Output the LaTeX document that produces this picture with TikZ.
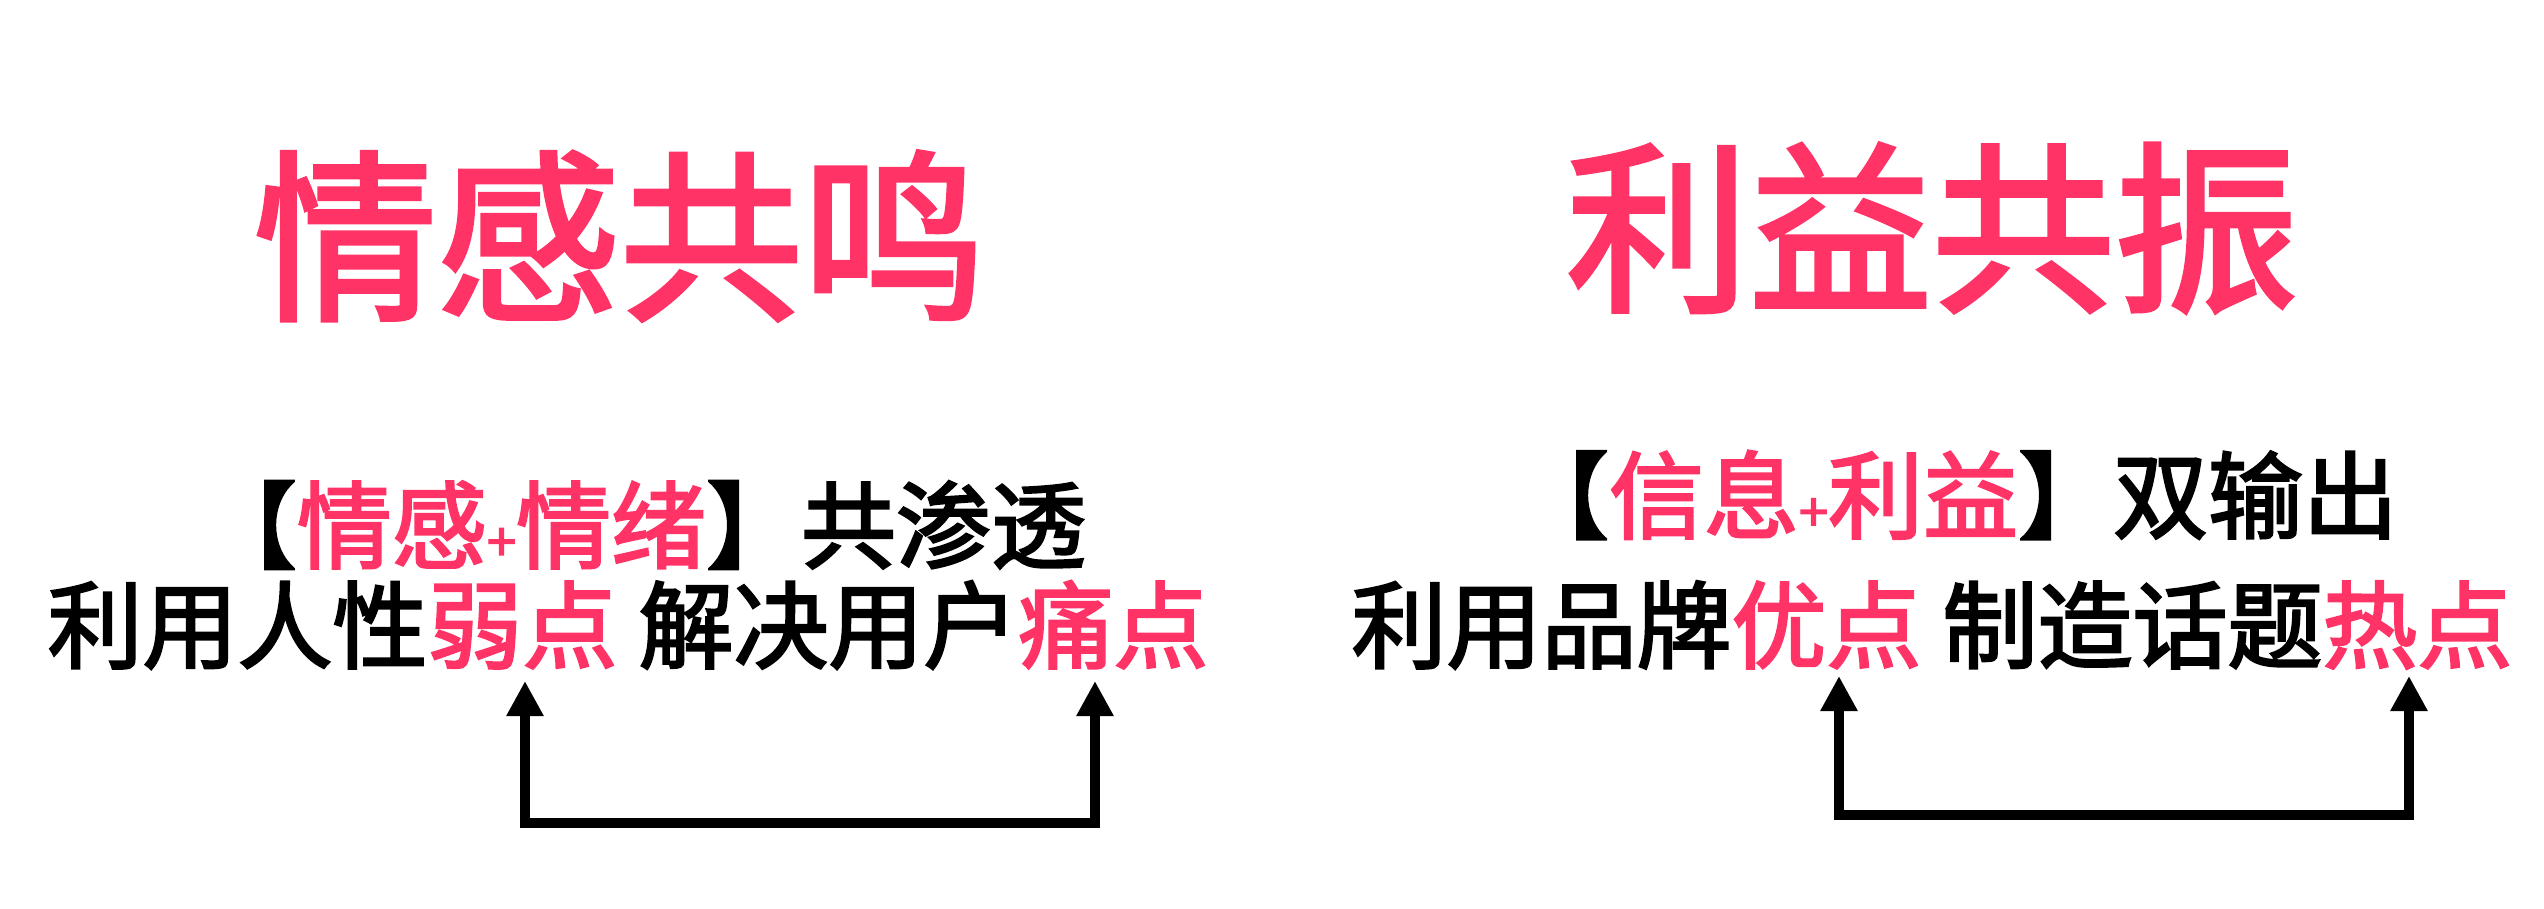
\documentclass[tikz,border=0pt]{standalone}
\usepackage{fontspec}
\newfontfamily\cjk{Noto Sans CJK SC}[AutoFakeBold=2.5]
\usetikzlibrary{positioning,arrows.meta}
\definecolor{pk}{HTML}{FF3366}
\tikzset{
    title/.style={font=\cjk\bfseries\fontsize{52pt}{58pt}\selectfont,text=pk,inner sep=0pt},
    line/.style={font=\cjk\bfseries\fontsize{27pt}{30pt}\selectfont,inner sep=0pt},
    loop/.style={line width=3pt,{Triangle[length=10pt,width=10pt]}-{Triangle[length=10pt,width=10pt]}}
}
\newcommand{\hl}[1]{\textcolor{pk}{#1}}
\begin{document}
\begin{tikzpicture}[x=0.01cm,y=-0.01cm]
    \useasboundingbox (0,0) rectangle (2544,908);
    % left column
    \node [title] (tl) at (620,236) {情感共鸣};
    \node [line] (la) at (644,525) {【\hl{情感}{\fontsize{15pt}{15pt}\selectfont\hl{+}}\hl{情绪}】共渗透};
    \node [line] (lb) at (628,625) {利用人性\hl{弱点} 解决用户\hl{痛点}};
    \coordinate (l1) at (525,823);
    \coordinate (l2) at (1095,823);
    \draw [loop] (525,681) -- (l1) -- (l2) -- (1095,681);
    % right column
    \node [title] (tr) at (1932,228) {利益共振};
    \node [line] (ra) at (1956,495) {【\hl{信息}{\fontsize{15pt}{15pt}\selectfont\hl{+}}\hl{利益}】双输出};
    \node [line] (rb) at (1932,625) {利用品牌\hl{优点} 制造话题\hl{热点}};
    \coordinate (r1) at (1839,815);
    \coordinate (r2) at (2409,815);
    \draw [loop] (1839,676) -- (r1) -- (r2) -- (2409,676);
\end{tikzpicture}
\end{document}
